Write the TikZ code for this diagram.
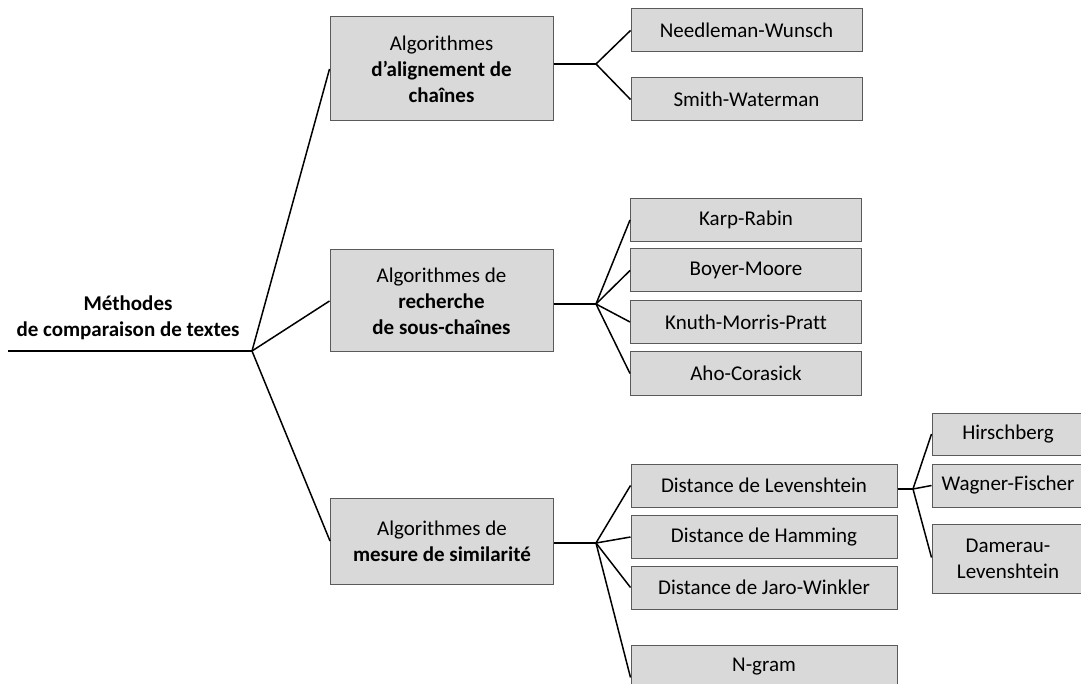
\documentclass[tikz,border=0pt]{standalone}
\usepackage{fontspec}
\setmainfont{Carlito}[Ligatures=NoCommon]
\definecolor{boxfill}{HTML}{D9D9D9}
\definecolor{boxline}{HTML}{5A5A5A}
\begin{document}
\begin{tikzpicture}[x=1pt,y=-1pt,
  font=\fontsize{21}{26}\selectfont,
  box/.style={draw=boxline,line width=1pt,fill=boxfill,inner sep=0pt,align=center},
  big/.style={box,minimum width=223pt},
  leaf/.style={box,minimum width=231pt,minimum height=43pt},
  dleaf/.style={box,minimum width=266pt,minimum height=43pt},
  rleaf/.style={box,minimum width=152pt},
  conn/.style={line width=1.5pt,black}]
\useasboundingbox (0,0) rectangle (1081,684);
\begin{scope}
\clip (0,0) rectangle (1081,684);
% root
\node[font=\fontsize{21}{26}\selectfont\bfseries,align=center] (root) at (128,318) {Méthodes\\de comparaison de textes};
\coordinate (r0) at (8,351);
\coordinate (j0) at (252,351);
% level 1
\node[big,minimum height=104pt] (b1) at (441.5,69) {Algorithmes\\\textbf{d’alignement de}\\\textbf{chaînes}};
\node[big,minimum height=102pt] (b2) at (441.5,301) {Algorithmes de\\\textbf{recherche}\\\textbf{de sous-chaînes}};
\node[big,minimum height=86pt] (b3) at (442,541) {Algorithmes de\\\textbf{mesure de similarité}};
% level 2
\node[leaf] (nw) at (746.5,30.5) {Needleman-Wunsch};
\node[leaf] (sw) at (746.5,99.5) {Smith-Waterman};
\node[leaf] (kr) at (746,220) {Karp-Rabin};
\node[leaf] (bm) at (746,270.5) {Boyer-Moore};
\node[leaf] (kmp) at (746,322) {Knuth-Morris-Pratt};
\node[leaf] (ac) at (746,373.5) {Aho-Corasick};
\node[dleaf] (lev) at (764,485.5) {Distance de Levenshtein};
\node[dleaf] (ham) at (764,537) {Distance de Hamming};
\node[dleaf] (jw) at (764,587.5) {Distance de Jaro-Winkler};
\node[dleaf] (ng) at (764,666.5) {N-gram};
% level 3
\node[rleaf,minimum height=42pt] (hb) at (1008,434) {Hirschberg};
\node[rleaf,minimum height=43pt] (wf) at (1008,485.5) {Wagner-Fischer};
\node[rleaf,minimum height=69pt] (dl) at (1008,558.5) {Damerau-\\Levenshtein};
% junctions
\coordinate (j1) at (596,64);
\coordinate (j2) at (596,304);
\coordinate (j3) at (596,543);
\coordinate (j4) at (913,489);
% connectors
\draw[conn] (r0) -- (j0);
\draw[conn] (j0) -- (b1.west);
\draw[conn] (j0) -- (b2.west);
\draw[conn] (j0) -- (b3.west);
\draw[conn] (j1 -| b1.east) -- (j1);
\draw[conn] (j1) -- (nw.west);
\draw[conn] (j1) -- (sw.west);
\draw[conn] (j2 -| b2.east) -- (j2);
\draw[conn] (j2) -- (kr.west);
\draw[conn] (j2) -- (bm.west);
\draw[conn] (j2) -- (kmp.west);
\draw[conn] (j2) -- (ac.west);
\draw[conn] (j3 -| b3.east) -- (j3);
\draw[conn] (j3) -- (lev.west);
\draw[conn] (j3) -- (ham.west);
\draw[conn] (j3) -- (jw.west);
\draw[conn] (j3) -- ([yshift=-11pt]ng.west);
\draw[conn] (j4 -| lev.east) -- (j4);
\draw[conn] (j4) -- (hb.west);
\draw[conn] (j4) -- (wf.west);
\draw[conn] (j4) -- ([yshift=1pt]dl.west);
\end{scope}
\end{tikzpicture}
\end{document}
